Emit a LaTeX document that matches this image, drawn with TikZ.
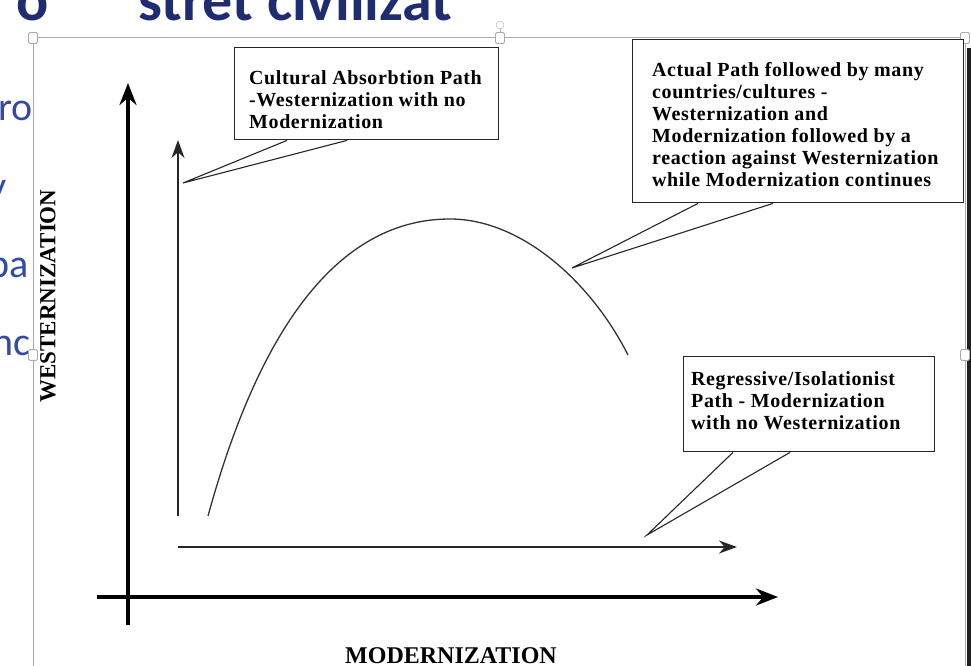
\documentclass[tikz,border=0pt]{standalone}
\usepackage{fontspec}
\setmainfont{Liberation Serif}
\newfontfamily\calloutfont[LetterSpace=3]{Liberation Serif}
\newfontfamily\slidefont{Carlito}
\usetikzlibrary{arrows.meta,calc}
\definecolor{titleblue}{RGB}{32,44,112}
\definecolor{slideblue}{RGB}{52,74,165}
\definecolor{framegray}{RGB}{170,170,170}
\tikzset{
  callbox/.style={draw=black!85, line width=1.4pt, fill=white, anchor=north west, inner sep=0pt},
  calltext/.style={anchor=north west, inner sep=0pt, align=left, font=\calloutfont\bfseries\fontsize{20}{22}\selectfont},
  pointer/.style={draw=black!85, line width=1.1pt, line join=miter},
  mainaxis/.style={line width=3.6pt, -{Stealth[length=22pt,width=17pt]}},
  inneraxis/.style={line width=2pt, black!85, -{Stealth[length=18pt,width=13pt]}},
  axislabel/.style={inner sep=0pt, font=\bfseries\fontsize{23}{23}\selectfont},
  handle/.style={draw=framegray, fill=white, line width=0.8pt, rounded corners=1.5pt, minimum width=9pt, minimum height=11pt, inner sep=0pt},
  slidetext/.style={anchor=base west, inner sep=0pt, text=slideblue, font=\slidefont\fontsize{40}{40}\selectfont},
  titletext/.style={anchor=base west, inner sep=0pt, text=titleblue, font=\slidefont\bfseries\fontsize{60}{60}\selectfont},
}
\begin{document}
\begin{tikzpicture}[x=1pt,y=-1pt]
\useasboundingbox (0,0) rectangle (971,666);
\begin{scope}
\clip (0,0) rectangle (971,666);
% slide behind the diagram
\node[titletext] (t1) at (16,21) {o};
\node[titletext] (t2) at (138,21) {stret civilizat};
\node[slidetext] (s1) at (-2,121) {ro};
\node[slidetext] (s2) at (-12,199) {y};
\node[slidetext] (s3) at (-12,277) {pa};
\node[slidetext] (s4) at (-8,355) {nc};
\fill[black!88] (967,48) rectangle (971,666);
% diagram area
\fill[white] (33,38) rectangle (965,666);
\draw[framegray, line width=1pt] (33,666) -- (33,38) -- (965,38) -- (965,666);
\draw[framegray, line width=0.8pt] (500,38) -- (500,27);
\node[draw=framegray, fill=white, circle, minimum size=8pt, inner sep=0pt] (rot) at (500,25) {};
\node[handle] (h1) at (33,38) {};
\node[handle] (h2) at (500,38) {};
\node[handle] (h3) at (965,38) {};
\node[handle] (h4) at (33,355) {};
\node[handle] (h5) at (965,355) {};

% axes
\coordinate (vbot) at (128,625);
\coordinate (vtop) at (128,83);
\coordinate (hleft) at (97,597);
\coordinate (hright) at (778,597);
\draw[mainaxis] (vbot) -- (vtop);
\draw[mainaxis] (hleft) -- (hright);
\coordinate (ivbot) at (178,516);
\coordinate (ivtop) at (178,140);
\coordinate (ihleft) at (178,547);
\coordinate (ihright) at (737,547);
\draw[inneraxis] (ivbot) -- (ivtop);
\draw[inneraxis] (ihleft) -- (ihright);

% curve
\coordinate (cstart) at (208,516);
\coordinate (cpeak) at (450,219);
\coordinate (cend) at (628,355);
\draw[black!80, line width=1.3pt] (cstart) .. controls (270,290) and (360,219) .. (cpeak)
  .. controls (520,219) and (590,280) .. (cend);

% axis labels
\node[axislabel, rotate=90] (wlab) at (48,296) {WESTERNIZATION};
\node[axislabel, font=\bfseries\fontsize{24}{24}\selectfont] (mlab) at (451,656) {MODERNIZATION};

% callout 1
\node[callbox, minimum width=264pt, minimum height=92pt] (bA) at (234,47) {};
\node[calltext] (tA) at (249,70) {Cultural Absorbtion Path\\-Westernization with no\\Modernization};
\coordinate (tipA) at (183,183);
\draw[pointer] ($(bA.south west)+(53,0)$) -- (tipA) -- ($(bA.south west)+(113,0)$);

% callout 2
\node[callbox, minimum width=331pt, minimum height=163pt] (bB) at (632,39) {};
\node[calltext] (tB) at (652,62) {Actual Path followed by many\\countries/cultures -\\Westernization and\\Modernization followed by a\\reaction against Westernization\\while Modernization continues};
\coordinate (tipB) at (572,268);
\draw[pointer] ($(bB.south west)+(66,0)$) -- (tipB) -- ($(bB.south west)+(141,0)$);

% callout 3
\node[callbox, minimum width=251pt, minimum height=95pt] (bC) at (683,356) {};
\node[calltext] (tC) at (691,371) {Regressive/Isolationist\\Path - Modernization\\with no Westernization};
\coordinate (tipC) at (647,535);
\draw[pointer] ($(bC.south west)+(50,0)$) -- (tipC) -- ($(bC.south west)+(107,0)$);
\end{scope}
\end{tikzpicture}
\end{document}
